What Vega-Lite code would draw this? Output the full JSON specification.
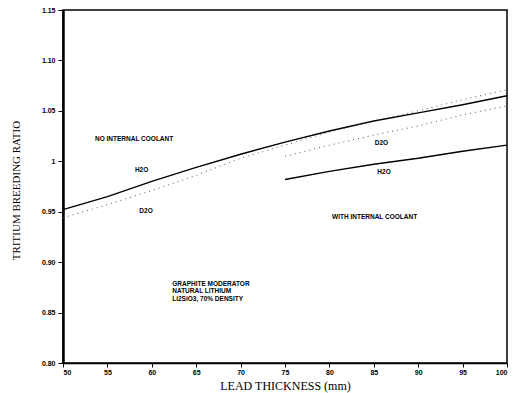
{
  "$schema": "https://vega.github.io/schema/vega-lite/v6.json",
  "width": 444,
  "height": 353,
  "autosize": "none",
  "padding": {"left": 63, "top": 10, "right": 12, "bottom": 30},
  "background": "white",
  "config": {
    "view": {"stroke": "black", "strokeWidth": 1.5},
    "axis": {
      "grid": false,
      "domainColor": "black",
      "tickColor": "black",
      "labelColor": "black",
      "titleColor": "black",
      "labelFont": "Liberation Sans",
      "labelFontSize": 7,
      "labelFontWeight": "bold",
      "titleFont": "Liberation Serif",
      "titleFontWeight": "normal"
    }
  },
  "datasets": {
    "curves": [
      {"coolant": "H2O", "case": "no internal coolant", "thickness": 50, "tbr": 0.952},
      {"coolant": "H2O", "case": "no internal coolant", "thickness": 55, "tbr": 0.965},
      {"coolant": "H2O", "case": "no internal coolant", "thickness": 60, "tbr": 0.980},
      {"coolant": "H2O", "case": "no internal coolant", "thickness": 65, "tbr": 0.994},
      {"coolant": "H2O", "case": "no internal coolant", "thickness": 70, "tbr": 1.007},
      {"coolant": "H2O", "case": "no internal coolant", "thickness": 75, "tbr": 1.019},
      {"coolant": "H2O", "case": "no internal coolant", "thickness": 80, "tbr": 1.030},
      {"coolant": "H2O", "case": "no internal coolant", "thickness": 85, "tbr": 1.040},
      {"coolant": "H2O", "case": "no internal coolant", "thickness": 90, "tbr": 1.048},
      {"coolant": "H2O", "case": "no internal coolant", "thickness": 95, "tbr": 1.056},
      {"coolant": "H2O", "case": "no internal coolant", "thickness": 100, "tbr": 1.065},
      {"coolant": "D2O", "case": "no internal coolant", "thickness": 50, "tbr": 0.944},
      {"coolant": "D2O", "case": "no internal coolant", "thickness": 55, "tbr": 0.957},
      {"coolant": "D2O", "case": "no internal coolant", "thickness": 60, "tbr": 0.971},
      {"coolant": "D2O", "case": "no internal coolant", "thickness": 65, "tbr": 0.986},
      {"coolant": "D2O", "case": "no internal coolant", "thickness": 70, "tbr": 1.003},
      {"coolant": "D2O", "case": "no internal coolant", "thickness": 75, "tbr": 1.016},
      {"coolant": "D2O", "case": "no internal coolant", "thickness": 80, "tbr": 1.029},
      {"coolant": "D2O", "case": "no internal coolant", "thickness": 85, "tbr": 1.040},
      {"coolant": "D2O", "case": "no internal coolant", "thickness": 90, "tbr": 1.050},
      {"coolant": "D2O", "case": "no internal coolant", "thickness": 95, "tbr": 1.061},
      {"coolant": "D2O", "case": "no internal coolant", "thickness": 100, "tbr": 1.071},
      {"coolant": "D2O", "case": "with internal coolant", "thickness": 75, "tbr": 1.005},
      {"coolant": "D2O", "case": "with internal coolant", "thickness": 80, "tbr": 1.016},
      {"coolant": "D2O", "case": "with internal coolant", "thickness": 85, "tbr": 1.026},
      {"coolant": "D2O", "case": "with internal coolant", "thickness": 90, "tbr": 1.035},
      {"coolant": "D2O", "case": "with internal coolant", "thickness": 95, "tbr": 1.046},
      {"coolant": "D2O", "case": "with internal coolant", "thickness": 100, "tbr": 1.055},
      {"coolant": "H2O", "case": "with internal coolant", "thickness": 75, "tbr": 0.982},
      {"coolant": "H2O", "case": "with internal coolant", "thickness": 80, "tbr": 0.990},
      {"coolant": "H2O", "case": "with internal coolant", "thickness": 85, "tbr": 0.997},
      {"coolant": "H2O", "case": "with internal coolant", "thickness": 90, "tbr": 1.003},
      {"coolant": "H2O", "case": "with internal coolant", "thickness": 95, "tbr": 1.010},
      {"coolant": "H2O", "case": "with internal coolant", "thickness": 100, "tbr": 1.016}
    ],
    "notes": [
      {"text": "NO INTERNAL COOLANT", "thickness": 53.6, "tbr": 1.022},
      {"text": "H2O", "thickness": 58.1, "tbr": 0.9915},
      {"text": "D2O", "thickness": 58.6, "tbr": 0.951},
      {"text": "D2O", "thickness": 85.1, "tbr": 1.018},
      {"text": "H2O", "thickness": 85.4, "tbr": 0.9894},
      {"text": "WITH INTERNAL COOLANT", "thickness": 80.3, "tbr": 0.945},
      {"text": "GRAPHITE MODERATOR", "thickness": 62.3, "tbr": 0.878},
      {"text": "NATURAL LITHIUM", "thickness": 62.3, "tbr": 0.871},
      {"text": "Li2SiO3, 70% DENSITY", "thickness": 62.3, "tbr": 0.863}
    ]
  },
  "encoding": {
    "x": {
      "field": "thickness",
      "type": "quantitative",
      "scale": {"domain": [50, 100], "nice": false, "zero": false},
      "axis": {
        "title": "LEAD THICKNESS (mm)",
        "titleFontSize": 12,
        "titleBaseline": "alphabetic",
        "titleY": 26,
        "values": [50, 55, 60, 65, 70, 75, 80, 85, 90, 95, 100],
        "tickSize": 4,
        "labelPadding": 1,
        "domainWidth": 1.5
      }
    },
    "y": {
      "field": "tbr",
      "type": "quantitative",
      "scale": {"domain": [0.8, 1.15], "nice": false, "zero": false},
      "axis": {
        "title": "TRITIUM BREEDING RATIO",
        "titleFontSize": 11,
        "titleX": -42,
        "titleY": 180,
        "values": [0.8, 0.85, 0.9, 0.95, 1, 1.05, 1.1, 1.15],
        "labelExpr": "datum.value == 1 ? '1' : format(datum.value, '.2f')",
        "tickSize": 5,
        "labelPadding": 3,
        "domainWidth": 2.5
      }
    }
  },
  "layer": [
    {
      "data": {"name": "curves"},
      "transform": [{"filter": "datum.coolant == 'H2O'"}],
      "mark": {"type": "line", "color": "black", "strokeWidth": 1.4},
      "encoding": {"detail": {"field": "case"}}
    },
    {
      "data": {"name": "curves"},
      "transform": [{"filter": "datum.coolant == 'D2O'"}],
      "mark": {"type": "line", "color": "#555", "strokeWidth": 1, "strokeDash": [1, 4]},
      "encoding": {"detail": {"field": "case"}}
    },
    {
      "data": {"name": "notes"},
      "mark": {"type": "text", "align": "left", "baseline": "middle", "font": "Liberation Sans", "fontSize": 6.5, "fontWeight": "bold", "color": "black"},
      "encoding": {"text": {"field": "text"}}
    }
  ]
}
